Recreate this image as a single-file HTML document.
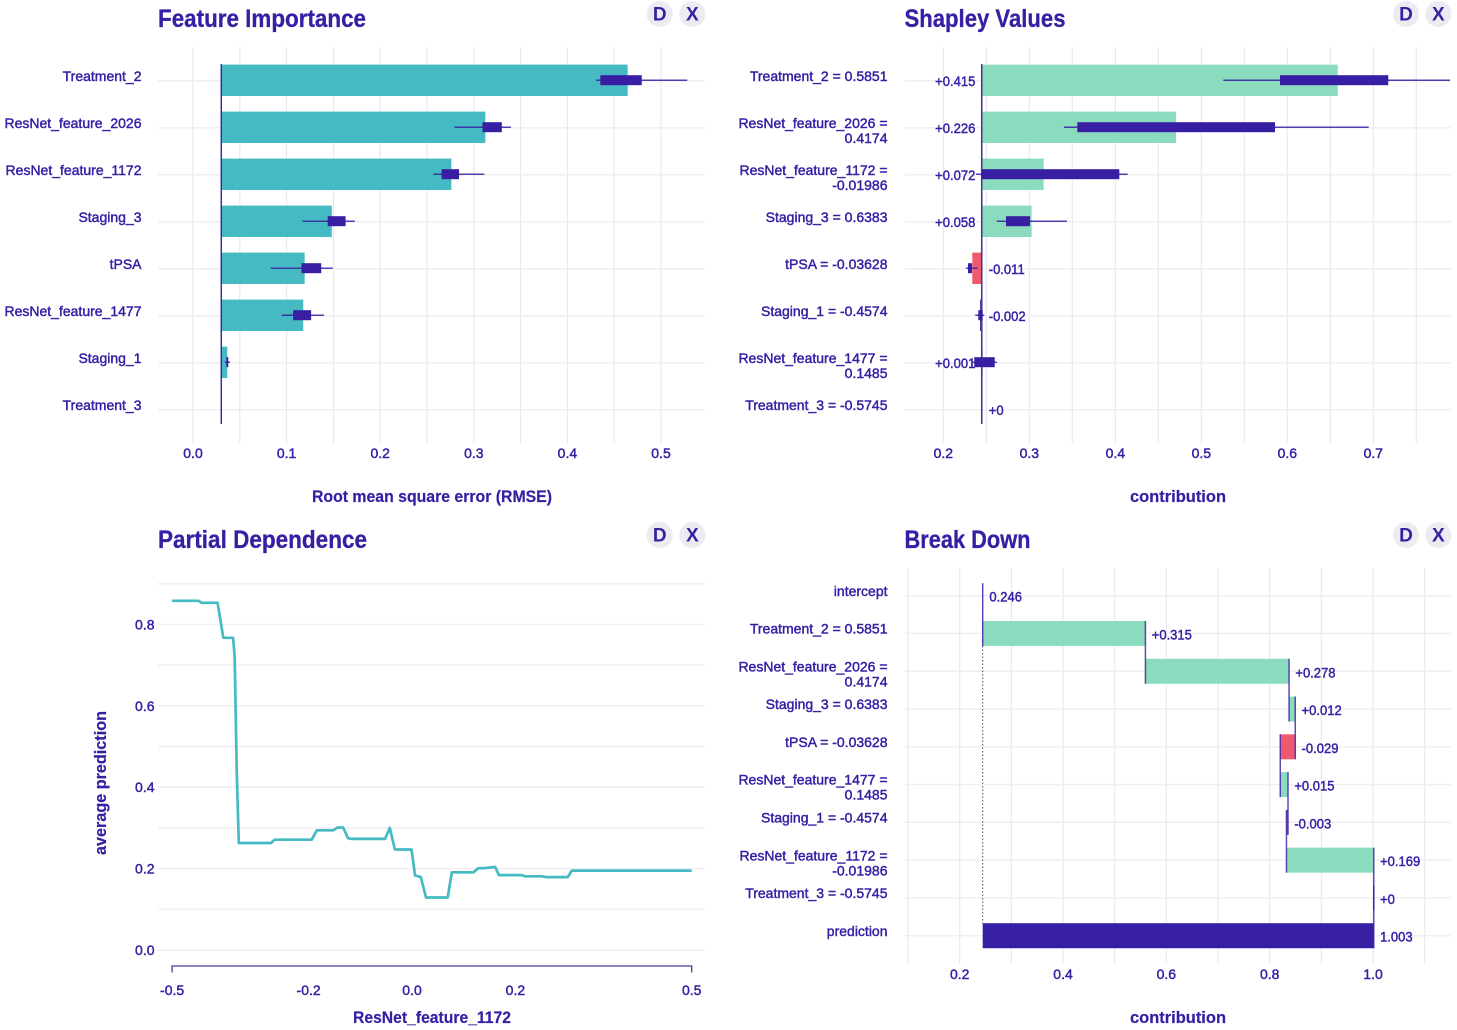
<!DOCTYPE html>
<html lang="en">
<head>
<meta charset="utf-8">
<title>Model dashboard</title>
<style>
html,body{margin:0;padding:0;background:#fff;width:1457px;height:1030px;overflow:hidden}
svg{display:block}
text{font-family:"Liberation Sans",sans-serif;fill:#371ea3}
.lab{font-size:14px;stroke:#371ea3;stroke-width:.45px}
.title{font-size:25px;font-weight:bold;stroke:#371ea3;stroke-width:.3px}
.axt{font-size:16.5px;font-weight:bold;stroke:#371ea3;stroke-width:.2px}
.btn{font-size:19px;font-weight:bold;text-anchor:middle}
</style>
</head>
<body>
<svg id="root" width="1457" height="1030" viewBox="0 0 1457 1030" xmlns="http://www.w3.org/2000/svg">
  <rect width="1457" height="1030" fill="#fff"/>
  <g id="fi">
    <text class="title" x="158" y="27" textLength="208" lengthAdjust="spacingAndGlyphs">Feature Importance</text>
    <text class="axt" x="432" y="502" text-anchor="middle" textLength="240" lengthAdjust="spacingAndGlyphs">Root mean square error (RMSE)</text>
  </g>
  <g id="sv">
    <text class="title" x="904.5" y="27" textLength="161" lengthAdjust="spacingAndGlyphs">Shapley Values</text>
    <text class="axt" x="1178" y="502" text-anchor="middle" textLength="96" lengthAdjust="spacingAndGlyphs">contribution</text>
  </g>
  <g id="pd">
    <text class="title" x="158" y="548" textLength="209" lengthAdjust="spacingAndGlyphs">Partial Dependence</text>
    <text class="axt" x="432" y="1023" text-anchor="middle" textLength="158" lengthAdjust="spacingAndGlyphs">ResNet_feature_1172</text>
    <text class="axt" transform="translate(106,783) rotate(-90)" text-anchor="middle" textLength="144" lengthAdjust="spacingAndGlyphs">average prediction</text>
  </g>
  <g id="bd">
    <text class="title" x="904.5" y="548" textLength="126" lengthAdjust="spacingAndGlyphs">Break Down</text>
    <text class="axt" x="1178" y="1023" text-anchor="middle" textLength="96" lengthAdjust="spacingAndGlyphs">contribution</text>
  </g>
  <g>
    <g><circle cx="659.7" cy="14" r="13" fill="#ebebf2"/><text class="btn" x="659.7" y="20.5">D</text></g>
    <g><circle cx="692.3" cy="14" r="13" fill="#ebebf2"/><text class="btn" x="692.3" y="20.5">X</text></g>
    <g><circle cx="1406" cy="14" r="13" fill="#ebebf2"/><text class="btn" x="1406" y="20.5">D</text></g>
    <g><circle cx="1438.4" cy="14" r="13" fill="#ebebf2"/><text class="btn" x="1438.4" y="20.5">X</text></g>
    <g><circle cx="659.7" cy="535" r="13" fill="#ebebf2"/><text class="btn" x="659.7" y="541.5">D</text></g>
    <g><circle cx="692.3" cy="535" r="13" fill="#ebebf2"/><text class="btn" x="692.3" y="541.5">X</text></g>
    <g><circle cx="1406" cy="535" r="13" fill="#ebebf2"/><text class="btn" x="1406" y="541.5">D</text></g>
    <g><circle cx="1438.4" cy="535" r="13" fill="#ebebf2"/><text class="btn" x="1438.4" y="541.5">X</text></g>
  </g>
</svg>
<script>
// Feature importance data
var fiFeatures = ['Treatment_2','ResNet_feature_2026','ResNet_feature_1172','Staging_3','tPSA','ResNet_feature_1477','Staging_1','Treatment_3'];
var fiBase = 0.0302;
var fiDropout = [0.4644,0.3123,0.2760,0.1483,0.1193,0.1178,0.0366,0.0302];
var fiMin = [0.4306,0.2794,0.2568,0.1169,0.0830,0.0948,0.0339,0.0302];
var fiQ1 = [0.4352,0.3093,0.2656,0.1439,0.1159,0.1070,0.0356,0.0302];
var fiQ3 = [0.4794,0.3299,0.2842,0.1630,0.1370,0.1262,0.0377,0.0302];
var fiMax = [0.5281,0.3397,0.3113,0.1729,0.1492,0.1400,0.0395,0.0302];
var fiTicks = [0,0.1,0.2,0.3,0.4,0.5];

// Shapley values data
var svFeatures = ['Treatment_2 = 0.5851','ResNet_feature_2026 =|0.4174','ResNet_feature_1172 =|-0.01986','Staging_3 = 0.6383','tPSA = -0.03628','Staging_1 = -0.4574','ResNet_feature_1477 =|0.1485','Treatment_3 = -0.5745'];
var svBase = 0.2447;
var svContribution = [0.414,0.226,0.072,0.058,-0.011,-0.002,0.001,0];
var svLabels = ['+0.415','+0.226','+0.072','+0.058','-0.011','-0.002','+0.001','+0'];
var svMin = [0.5256,0.3403,0.2380,0.2621,0.2264,0.2372,0.2334,null];
var svQ1 = [0.5915,0.3558,0.2447,0.2729,0.2287,0.2407,0.2360,null];
var svQ3 = [0.7174,0.5857,0.4047,0.3008,0.2334,0.2458,0.2598,null];
var svMax = [0.7892,0.6947,0.4144,0.3438,0.2400,0.2477,0.2624,null];
var svTicks = [0.2,0.3,0.4,0.5,0.6,0.7];

// Partial dependence data
var pdX = [-0.464,-0.413,-0.407,-0.376,-0.365,-0.346,-0.343,-0.339,-0.335,-0.273,-0.266,-0.194,-0.184,-0.152,-0.144,-0.133,-0.124,-0.117,-0.052,-0.043,-0.033,-0.001,0.006,0.017,0.027,0.069,0.077,0.119,0.128,0.138,0.161,0.168,0.212,0.219,0.251,0.259,0.301,0.309,0.541];
var pdY = [0.858,0.858,0.853,0.853,0.767,0.767,0.720,0.442,0.263,0.263,0.271,0.271,0.294,0.294,0.301,0.301,0.275,0.273,0.273,0.300,0.247,0.247,0.183,0.179,0.129,0.129,0.191,0.191,0.201,0.201,0.204,0.184,0.184,0.181,0.181,0.179,0.179,0.195,0.195];
var pdXTicks = [-0.464,-0.2,0,0.2,0.541];
var pdYTicks = [0,0.2,0.4,0.6,0.8];
var pdYGrid = [0,0.1,0.2,0.3,0.4,0.5,0.6,0.7,0.8,0.9];

// Break down data
var bdFeatures = ['intercept','Treatment_2 = 0.5851','ResNet_feature_2026 =|0.4174','Staging_3 = 0.6383','tPSA = -0.03628','ResNet_feature_1477 =|0.1485','Staging_1 = -0.4574','ResNet_feature_1172 =|-0.01986','Treatment_3 = -0.5745','prediction'];
var bdIntercept = 0.2445;
var bdContribution = [0.315,0.278,0.012,-0.029,0.015,-0.003,0.169,0];
var bdLabels = ['0.246','+0.315','+0.278','+0.012','-0.029','+0.015','-0.003','+0.169','+0','1.003'];
var bdTicks = [0.2,0.4,0.6,0.8,1.0];

var NS = 'http://www.w3.org/2000/svg';
var INK = '#371ea3', GRID = '#e7e7ee', TEAL = '#46bac2', GREEN = '#8bdcbe', RED = '#f05a71';

function linear(d0, r0, d1, r1) {
  return function (v) { return r0 + (v - d0) * (r1 - r0) / (d1 - d0); };
}
function mk(parent, tag, attrs) {
  var el = document.createElementNS(NS, tag);
  for (var k in attrs) el.setAttribute(k, attrs[k]);
  parent.appendChild(el);
  return el;
}
function line(parent, x1, y1, x2, y2, stroke, w, opacity) {
  return mk(parent, 'line', {x1: x1, y1: y1, x2: x2, y2: y2, stroke: stroke, 'stroke-width': w, opacity: opacity === undefined ? 1 : opacity});
}
function label(parent, x, y, str, anchor) {
  var t = mk(parent, 'text', {x: x, y: y, 'text-anchor': anchor, 'class': 'lab'});
  t.textContent = str;
  return t;
}
function valueLabel(parent, x, y, str, anchor) {
  var t = label(parent, x, y, str, anchor);
  t.setAttribute('textLength', (t.getComputedTextLength() * 0.93).toFixed(2));
  t.setAttribute('lengthAdjust', 'spacingAndGlyphs');
  return t;
}
function rowLabel(parent, x, y, str) {
  var parts = str.split('|');
  var t = mk(parent, 'text', {'text-anchor': 'end', 'class': 'lab'});
  parts.forEach(function (p, i) {
    var s = mk(t, 'tspan', {x: x, y: y + i * 15});
    s.textContent = p;
  });
  return t;
}
function slug(s) {
  return s.split(' ')[0].split('|')[0].toLowerCase().replace(/_/g, '-');
}
function verticalGrid(g, x, start, stop, step, top, bottom, minX, maxX) {
  var n = Math.round((stop - start) / step);
  for (var i = 0; i <= n; i++) {
    var px = x(start + i * step);
    if (px < minX || px > maxX) continue;
    var l = line(g, px, top, px, bottom, GRID, 1.1);
    
    
  }
}
function horizontalGrid(g, y, x1, x2) {
  var l = line(g, x1, y, x2, y, '#eeeef3', 1.4);
  
  
}
function whiskerBox(g, x, y, lo, q1, q3, hi, name) {
  var gr = mk(g, 'g', {});
  
  
  line(gr, x(lo), y, x(hi), y, INK, 1.5, 0.85);
  mk(gr, 'rect', {x: x(q1), y: y - 5, width: Math.max(0, x(q3) - x(q1)), height: 10, fill: INK});
}

/* ---------- Feature Importance ---------- */
(function () {
  var g = document.getElementById('fi');
  var x = linear(0, 193, 0.5, 661);
  var row = function (i) { return 80.8 + 47 * i; };
  verticalGrid(g, x, 0, 0.5, 0.05, 47, 443, 158, 705);
  fiFeatures.forEach(function (f, i) { horizontalGrid(g, row(i), 158, 705); });
  fiFeatures.forEach(function (f, i) {
    if (fiDropout[i] > fiBase) {
      var b = mk(g, 'rect', {x: x(fiBase), y: row(i) - 16.2, width: x(fiDropout[i]) - x(fiBase), height: 31.4, fill: TEAL});
      
      
    }
    var t = rowLabel(g, 141.5, row(i) + 0.1, f);
    
    
  });
  var base = line(g, x(fiBase), 64, x(fiBase), 424, INK, 1.4);
  
  
  fiFeatures.forEach(function (f, i) {
    if (fiMax[i] > fiMin[i] && fiDropout[i] > fiBase) {
      whiskerBox(g, x, row(i) - 0.6, fiMin[i], fiQ1[i], fiQ3[i], fiMax[i], 'boxplot-' + slug(f));
    }
  });
  fiTicks.forEach(function (v) {
    var t = label(g, x(v), 458.2, v.toFixed(1), 'middle');
    
    
  });
})();

/* ---------- Shapley Values ---------- */
(function () {
  var g = document.getElementById('sv');
  var x = linear(0.2, 943.3, 0.7, 1373.3);
  var row = function (i) { return 80.8 + 47 * i; };
  verticalGrid(g, x, 0.2, 0.75, 0.05, 47, 443, 904, 1451);
  svFeatures.forEach(function (f, i) { horizontalGrid(g, row(i), 904.5, 1451); });
  svFeatures.forEach(function (f, i) {
    var c = svContribution[i], end = svBase + c;
    if (c !== 0) {
      var w = Math.abs(x(end) - x(svBase));
      var b = mk(g, 'rect', {x: Math.min(x(svBase), x(end)), y: row(i) - 16.2, width: w, height: 31.4, fill: w < 3 ? '#4a3a94' : (c > 0 ? GREEN : RED)});
      
      
    }
    var t = rowLabel(g, 887.5, row(i) + 0.1, f);
    
    
    var positive = svLabels[i].charAt(0) === '+' && c !== 0;
    var v = valueLabel(g, positive ? x(svBase) - 6.4 : x(svBase) + 7, row(i) + 5.2, svLabels[i], positive ? 'end' : 'start');
    
    
  });
  var base = line(g, x(svBase), 64, x(svBase), 424, '#4a3a94', 1.6);
  
  
  svFeatures.forEach(function (f, i) {
    if (svMin[i] !== null) {
      whiskerBox(g, x, row(i) - 0.6, svMin[i], svQ1[i], svQ3[i], svMax[i], 'boxplot-' + slug(f));
    }
  });
  svTicks.forEach(function (v) {
    var t = label(g, x(v), 458.2, v.toFixed(1), 'middle');
    
    
  });
})();

/* ---------- Partial Dependence ---------- */
(function () {
  var g = document.getElementById('pd');
  var x = linear(0, 412, 0.2, 515.4);
  var y = linear(0, 950, 0.8, 624.4);
  pdYGrid.forEach(function (v) { horizontalGrid(g, y(v), 158, 705); });
  pdYTicks.forEach(function (v) {
    var t = label(g, 154.5, y(v) + 5, v.toFixed(1), 'end');
    
    
  });
  var x0 = x(pdXTicks[0]), x1 = x(pdXTicks[pdXTicks.length - 1]);
  var axis = mk(g, 'path', {d: 'M' + x0 + ' 972.5V966H' + x1 + 'V972.5', fill: 'none', stroke: '#4a3a94', 'stroke-width': 1.3});
  
  
  pdXTicks.forEach(function (v) {
    var t = label(g, x(v), 995, (Math.abs(v) < 1e-9 ? 0 : v).toFixed(1), 'middle');
    
    
  });
  var pts = pdX.map(function (v, i) { return x(v).toFixed(1) + ',' + y(pdY[i]).toFixed(1); }).join(' ');
  var pl = mk(g, 'polyline', {points: pts, fill: 'none', stroke: TEAL, 'stroke-width': 2.7, 'stroke-linejoin': 'round', 'stroke-linecap': 'butt'});
  
  
})();

/* ---------- Break Down ---------- */
(function () {
  var g = document.getElementById('bd');
  var x = linear(0.2, 959.7, 1.0, 1373);
  var row = function (i) { return 595.7 + 37.78 * i; };
  verticalGrid(g, x, 0.1, 1.1, 0.1, 568, 964, 904, 1451);
  bdFeatures.forEach(function (f, i) {
    horizontalGrid(g, row(i), 904.5, 1451);
    var t = rowLabel(g, 887.5, row(i) + 0.1, f);
    
    
  });
  var H = 25, cum = bdIntercept, last = bdFeatures.length - 1;
  var bars = mk(g, 'g', {}), lines = mk(g, 'g', {});
  
  
  
  

  var c0 = line(lines, x(cum), row(0) - H / 2, x(cum), row(1) + H / 2, INK, 1.4, 0.85);
  
  
  var v0 = valueLabel(g, x(cum) + 6.7, row(0) + 6, bdLabels[0], 'start');
  
  

  bdContribution.forEach(function (c, k) {
    var i = k + 1, next = cum + c;
    var lo = Math.min(x(cum), x(next)), hi = Math.max(x(cum), x(next));
    if (c !== 0) {
      var b = mk(bars, 'rect', {x: lo, y: row(i) - H / 2, width: hi - lo, height: H, fill: c > 0 ? GREEN : RED});
      
      
    }
    var cn = line(lines, x(next), row(i) - H / 2, x(next), row(i + 1) + H / 2, INK, 1.5, 0.8);
    
    
    var v = valueLabel(g, hi + 6.3, row(i) + 6, bdLabels[i], 'start');
    
    
    cum = next;
  });

  var pred = mk(g, 'rect', {x: x(bdIntercept), y: row(last) - H / 2, width: x(cum) - x(bdIntercept), height: H, fill: INK});
  
  
  var pv = valueLabel(g, x(cum) + 6.3, row(last) + 6, bdLabels[last], 'start');
  
  
  var dot = line(g, x(bdIntercept), row(1) + H / 2, x(bdIntercept), row(last) - H / 2, '#4a4a6a', 1, 1);
  dot.setAttribute('stroke-dasharray', '1.5 2');
  
  
  bdTicks.forEach(function (v) {
    var t = label(g, x(v), 979.2, v.toFixed(1), 'middle');
    
    
  });
})();
</script>
</body>
</html>
